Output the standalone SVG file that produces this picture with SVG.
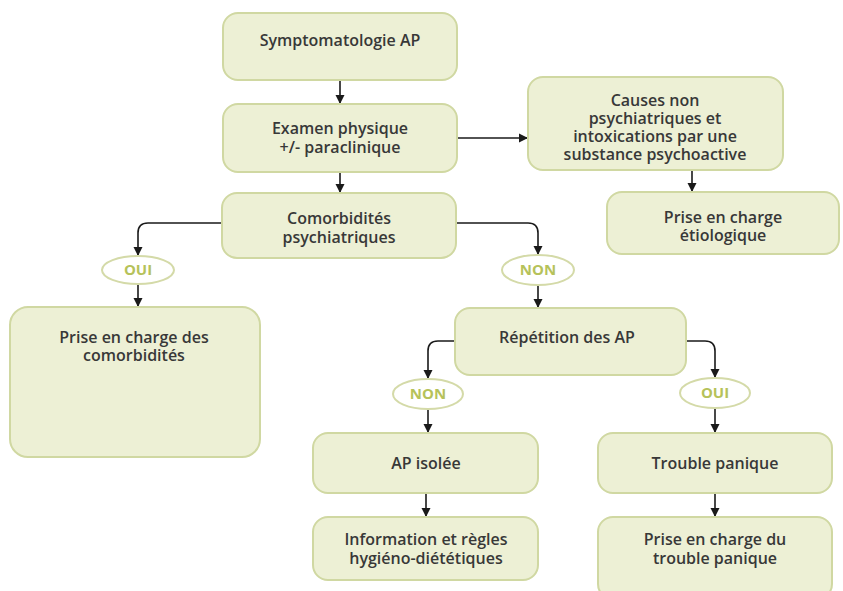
<svg xmlns="http://www.w3.org/2000/svg" width="843" height="591" viewBox="0 0 843 591">
  <defs>
    <marker id="arrow" viewBox="0 0 10 10" refX="10" refY="5" markerWidth="9" markerHeight="10" markerUnits="userSpaceOnUse" orient="auto">
      <path d="M0,0 L10,5 L0,10 Z" fill="#1a1a1a"/>
    </marker>
    <style>
      .box { fill: #edf0d5; stroke: #d0d8a2; stroke-width: 2; }
      .oval { fill: #ffffff; stroke: #d4daa8; stroke-width: 2; }
      .lbl { font-family: "Open Sans", "Liberation Sans", sans-serif; font-size: 16px; font-weight: 600; fill: #383838; text-anchor: middle; }
      .yn { font-family: "Open Sans", "Liberation Sans", sans-serif; font-size: 15px; font-weight: 700; fill: #b6c25a; text-anchor: middle; }
      .wire { fill: none; stroke: #1a1a1a; stroke-width: 1.6; marker-end: url(#arrow); }
    </style>
  </defs>
  <rect width="843" height="591" fill="#ffffff"/>

  <g id="connectors">
    <path class="wire" d="M340,80 V104"/>
    <path class="wire" d="M340,172 V193"/>
    <path class="wire" d="M457,138 H528"/>
    <path class="wire" d="M692,170 V192"/>
    <path class="wire" d="M222,223 H148 Q138,223 138,233 V256"/>
    <path class="wire" d="M456,223 H528 Q538,223 538,233 V255"/>
    <path class="wire" d="M138,284 V307"/>
    <path class="wire" d="M538,285 V308"/>
    <path class="wire" d="M455,341 H438 Q428,341 428,351 V379"/>
    <path class="wire" d="M686,341 H705 Q715,341 715,351 V378"/>
    <path class="wire" d="M428,409 V433"/>
    <path class="wire" d="M715,408 V433"/>
    <path class="wire" d="M426,493 V517"/>
    <path class="wire" d="M715,493 V517"/>
  </g>

  <g id="symptomatologie">
    <rect class="box" x="223" y="13" width="234" height="67" rx="15"/>
    <text class="lbl" x="340" y="46">Symptomatologie AP</text>
  </g>
  <g id="examen">
    <rect class="box" x="223" y="104" width="234" height="68" rx="15"/>
    <text class="lbl" x="340" y="134">Examen physique</text>
    <text class="lbl" x="340" y="153">+/- paraclinique</text>
  </g>
  <g id="causes">
    <rect class="box" x="528" y="77" width="255" height="93" rx="15"/>
    <text class="lbl" x="655" y="106">Causes non</text>
    <text class="lbl" x="655" y="124">psychiatriques et</text>
    <text class="lbl" x="655" y="142">intoxications par une</text>
    <text class="lbl" x="655" y="160">substance psychoactive</text>
  </g>
  <g id="etiologique">
    <rect class="box" x="607" y="192" width="232" height="62" rx="15"/>
    <text class="lbl" x="723" y="223">Prise en charge</text>
    <text class="lbl" x="723" y="241">étiologique</text>
  </g>
  <g id="comorbidites">
    <rect class="box" x="222" y="193" width="234" height="65" rx="15"/>
    <text class="lbl" x="339" y="224">Comorbidités</text>
    <text class="lbl" x="339" y="243">psychiatriques</text>
  </g>
  <g id="oui-1">
    <ellipse class="oval" cx="138" cy="270" rx="36" ry="14"/>
    <text class="yn" x="138" y="275">OUI</text>
  </g>
  <g id="non-1">
    <ellipse class="oval" cx="538" cy="270" rx="36" ry="15"/>
    <text class="yn" x="538" y="275">NON</text>
  </g>
  <g id="pec-comorbidites">
    <rect class="box" x="10" y="307" width="250" height="150" rx="18"/>
    <text class="lbl" x="134" y="343">Prise en charge des</text>
    <text class="lbl" x="134" y="361">comorbidités</text>
  </g>
  <g id="repetition">
    <rect class="box" x="455" y="308" width="231" height="67" rx="15"/>
    <text class="lbl" x="567" y="343">Répétition des AP</text>
  </g>
  <g id="non-2">
    <ellipse class="oval" cx="428" cy="394" rx="35" ry="15"/>
    <text class="yn" x="428" y="399">NON</text>
  </g>
  <g id="oui-2">
    <ellipse class="oval" cx="715" cy="393" rx="35" ry="15"/>
    <text class="yn" x="715" y="398">OUI</text>
  </g>
  <g id="ap-isolee">
    <rect class="box" x="313" y="433" width="225" height="60" rx="15"/>
    <text class="lbl" x="426" y="469">AP isolée</text>
  </g>
  <g id="trouble-panique">
    <rect class="box" x="598" y="433" width="234" height="60" rx="15"/>
    <text class="lbl" x="715" y="469">Trouble panique</text>
  </g>
  <g id="information">
    <rect class="box" x="313" y="517" width="225" height="63" rx="15"/>
    <text class="lbl" x="426" y="545">Information et règles</text>
    <text class="lbl" x="426" y="564">hygiéno-diététiques</text>
  </g>
  <g id="pec-trouble-panique">
    <rect class="box" x="598" y="517" width="234" height="82" rx="15"/>
    <text class="lbl" x="715" y="545">Prise en charge du</text>
    <text class="lbl" x="715" y="564">trouble panique</text>
  </g>
</svg>
